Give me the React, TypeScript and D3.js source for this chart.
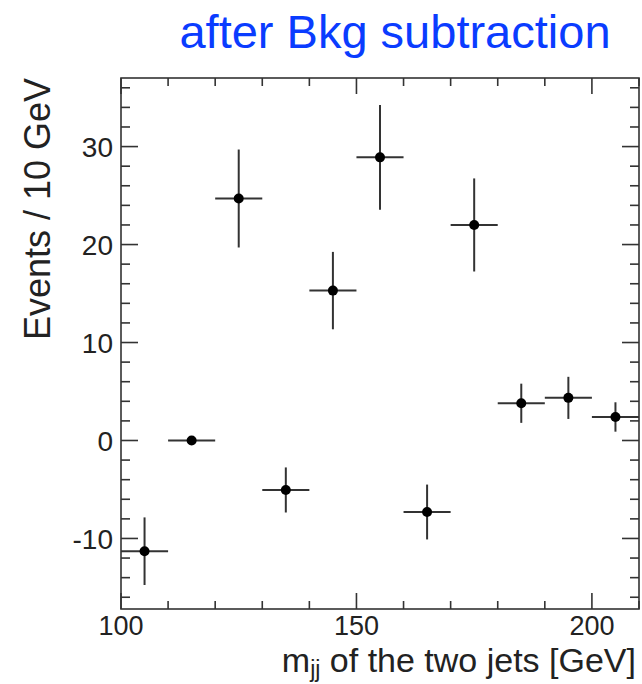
import React from "react";
import * as d3 from "d3";

const binCenters = [105, 115, 125, 135, 145, 155, 165, 175, 185, 195, 205];
const values = [-11.3, 0.0, 24.7, -5.05, 15.3, 28.9, -7.3, 22.0, 3.8, 4.35, 2.4];
const errors = [3.45, 0.0, 5.0, 2.3, 3.95, 5.35, 2.8, 4.75, 2.0, 2.15, 1.5];
const binHalfWidth = 5;
const xMajorTicks = [100, 150, 200];
const yMajorTicks = [-10, 0, 10, 20, 30];
const titleText = "after Bkg subtraction";
const yLabel = "Events / 10 GeV";

const W = 642;
const H = 684;
const left = 121;
const right = 639;
const top = 78;
const bottom = 609;

const FONT = "'Liberation Sans', Arial, Helvetica, sans-serif";
const AX = "#333";

export default function App() {
  const x = d3.scaleLinear().domain([100, 210]).range([left, right]);
  const y = d3.scaleLinear().domain([-17.2, 37.0]).range([bottom, top]);

  const xMinor = d3.range(100, 211, 10);
  const yMinor = d3.range(-16, 37, 2);

  const ticks: JSX.Element[] = [];
  xMinor.forEach((v) => {
    const major = xMajorTicks.includes(v);
    const len = major ? 16 : 8;
    const xx = x(v);
    ticks.push(<line key={"xb" + v} x1={xx} x2={xx} y1={bottom} y2={bottom - len} />);
    ticks.push(<line key={"xt" + v} x1={xx} x2={xx} y1={top} y2={top + len} />);
  });
  yMinor.forEach((v) => {
    const major = yMajorTicks.includes(v) || v % 10 === 0;
    const len = major ? 17 : 9;
    const yy = y(v);
    ticks.push(<line key={"yl" + v} x1={left} x2={left + len} y1={yy} y2={yy} />);
    ticks.push(<line key={"yr" + v} x1={right} x2={right - len} y1={yy} y2={yy} />);
  });

  return (
    <svg
      width={W}
      height={H}
      style={{ position: "absolute", left: 0, top: 0, background: "#fff" }}
      fontFamily={FONT}
    >
      <rect x={0} y={0} width={W} height={H} fill="#fff" />
      <text x={395} y={48} fontSize={47} fill="#0a3cff" textAnchor="middle">
        {titleText}
      </text>

      <g stroke={AX} strokeWidth={1.6}>
        {ticks}
        <rect x={left} y={top} width={right - left} height={bottom - top} fill="none" />
      </g>

      {yMajorTicks.map((v) => (
        <text key={"yl" + v} x={113} y={y(v)} dy="0.36em" fontSize={28} textAnchor="end" fill="#222">
          {v}
        </text>
      ))}
      {xMajorTicks.map((v) => (
        <text key={"xl" + v} x={x(v)} y={635} fontSize={27} textAnchor="middle" fill="#222">
          {v}
        </text>
      ))}

      <text
        transform="translate(50,209) rotate(-90)"
        fontSize={36}
        textAnchor="middle"
        fill="#222"
      >
        {yLabel}
      </text>

      <text x={636} y={672} fontSize={34} textAnchor="end" fill="#222">
        m
        <tspan fontSize={23} dy={5}>jj</tspan>
        <tspan dy={-5}> of the two jets [GeV]</tspan>
      </text>

      <g stroke={AX} strokeWidth={2}>
        {binCenters.map((c, i) => (
          <g key={"e" + i}>
            <line x1={x(c - binHalfWidth)} x2={x(c + binHalfWidth)} y1={y(values[i])} y2={y(values[i])} />
            {errors[i] > 0 && (
              <line x1={x(c)} x2={x(c)} y1={y(values[i] + errors[i])} y2={y(values[i] - errors[i])} />
            )}
          </g>
        ))}
      </g>
      <g fill="#000">
        {binCenters.map((c, i) => (
          <circle key={"p" + i} cx={x(c)} cy={y(values[i])} r={5} />
        ))}
      </g>
    </svg>
  );
}
